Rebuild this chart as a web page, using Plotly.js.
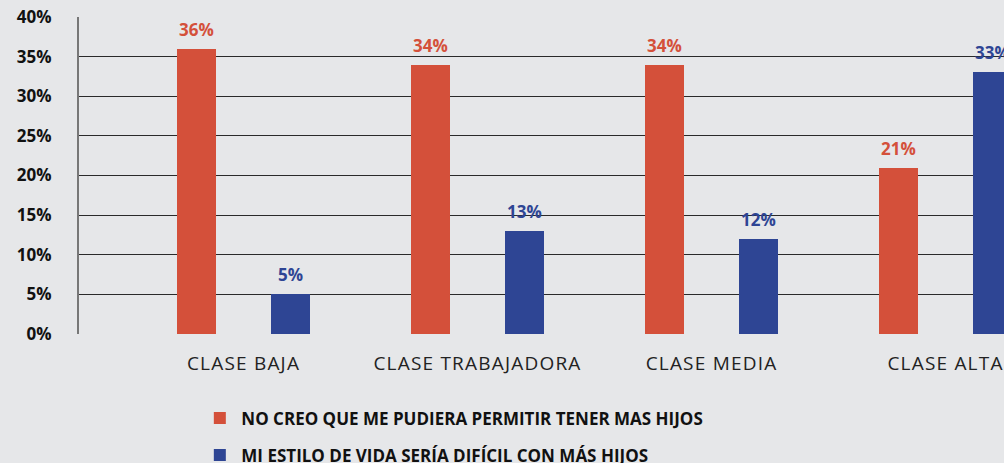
<!DOCTYPE html>
<html><head><meta charset="utf-8">
<script src="https://cdn.plot.ly/plotly-3.0.1.min.js"></script>
<style>html,body{margin:0;padding:0;background:#e6e7e9;overflow:hidden}
.xtick text{letter-spacing:1.2px}</style>
</head><body><div id="chart" style="width:1004px;height:463px"></div>
<script>
var categories = ["CLASE BAJA", "CLASE TRABAJADORA", "CLASE MEDIA", "CLASE ALTA"];
var seriesNames = ["NO CREO QUE ME PUDIERA PERMITIR TENER MAS HIJOS", "MI ESTILO DE VIDA SERÍA DIFÍCIL CON MÁS HIJOS"];
var noPuedo = [36, 34, 34, 21];
var estiloVida = [5, 13, 12, 33];
var yTicks = [0, 5, 10, 15, 20, 25, 30, 35, 40];
var yTickLabels = yTicks.map(function(v){return v + "%";});

var red = "#d4503a", blue = "#2e4594";
var font = "'Open Sans', sans-serif";
var barW = 0.1667, offRed = -0.284, offBlue = 0.1175;

var traces = [
  {type:"bar", x:categories, y:noPuedo, name:seriesNames[0], marker:{color:red},
   width:barW, offset:offRed, legend:"legend", hoverinfo:"none"},
  {type:"bar", x:categories, y:estiloVida, name:seriesNames[1], marker:{color:blue},
   width:barW, offset:offBlue, legend:"legend2", hoverinfo:"none"}
];

var annotations = [];
[[noPuedo, offRed, red], [estiloVida, offBlue, blue]].forEach(function(s){
  s[0].forEach(function(v, i){
    annotations.push({xref:"x", yref:"y", x:i + s[1] + barW/2, y:v, text:v + "%",
      showarrow:false, yanchor:"bottom", yshift:6,
      font:{family:font, size:17, color:s[2], weight:"bold"}});
  });
});

var layout = {
  width:1004, height:463,
  paper_bgcolor:"#e6e7e9", plot_bgcolor:"#e6e7e9",
  margin:{l:79, r:0, t:17, b:129},
  font:{family:font, color:"#111"},
  xaxis:{type:"category", range:[-0.703, 3.25], showgrid:false, zeroline:false, automargin:false,
    showline:false, ticks:"", tickangle:0, tickfont:{family:font, size:19, color:"#222"}, ticklabelstandoff:16},
  yaxis:{range:[0,40], tickvals:yTicks, ticktext:yTickLabels, showgrid:true, automargin:false,
    gridcolor:"#2a2a2a", gridwidth:1, zeroline:false, showline:true, linecolor:"#777", linewidth:2,
    ticks:"", tickfont:{family:font, size:17, color:"#111", weight:"bold"}, ticklabelstandoff:22},
  showlegend:true,
  legend:{xref:"paper", yref:"container", x:0.129, y:0.135, xanchor:"left", yanchor:"top",
    bgcolor:"rgba(0,0,0,0)", itemwidth:33,
    font:{family:font, size:17, color:"#111", weight:"bold"}},
  legend2:{xref:"paper", yref:"container", x:0.129, y:0.055, xanchor:"left", yanchor:"top",
    bgcolor:"rgba(0,0,0,0)", itemwidth:33,
    font:{family:font, size:17, color:"#111", weight:"bold"}},
  annotations:annotations,
  bargap:0
};
Plotly.newPlot("chart", traces, layout, {displayModeBar:false, staticPlot:true});
</script></body></html>
